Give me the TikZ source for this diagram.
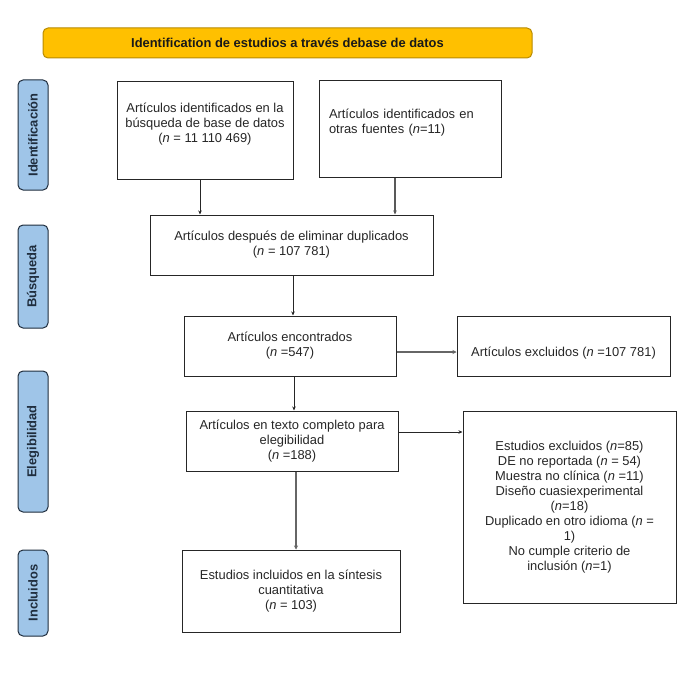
\documentclass[tikz,border=0pt]{standalone}
\usepackage{fontspec}
\setmainfont{Liberation Sans}
\usetikzlibrary{arrows.meta}

\definecolor{gold}{HTML}{FFC000}
\definecolor{golddark}{HTML}{B88A00}
\definecolor{sideblue}{HTML}{9FC5E8}
\definecolor{sidedark}{HTML}{1F2D3D}
\newcommand{\boxfont}{\fontsize{12.9}{15}\selectfont}

\tikzset{
  box/.style={draw=black!85, line width=1pt, align=center, inner sep=0pt, text=black!85},
  side/.style={draw=sidedark, fill=sideblue, line width=1pt, rounded corners=5pt, rotate=90,
    minimum height=30pt, inner sep=0pt, font=\boxfont\bfseries, text=sidedark},
  head/.style={draw=golddark, fill=gold, line width=1pt, rounded corners=5pt,
    inner sep=0pt, font=\boxfont\bfseries, text=black!90},
  arr/.style={-{Stealth[length=4pt,width=3.5pt]}, line width=0.8pt, black!85},
  arrthick/.style={-{Stealth[length=4pt,width=4pt]}, line width=2pt, black!60},
}

\begin{document}
\begin{tikzpicture}[x=1pt, y=-1pt, font=\boxfont]
\useasboundingbox (0,0) rectangle (687,690);

%%%%% Header
\node [head, minimum width=489pt, minimum height=30pt] (hdr) at (287.5,43) {Identification de estudios a través debase de datos};

%%%%% Side labels
\node [side, minimum width=110pt] (sideId) at (33,135) {Identificación};
\node [side, minimum width=103pt] (sideBus) at (33,276.5) {Búsqueda};
\node [side, minimum width=141pt] (sideEle) at (33,441.5) {Elegibilidad};
\node [side, minimum width=86pt] (sideInc) at (33,593) {Incluidos};

%%%%% Identification
\node [box, minimum width=176pt, minimum height=97pt] (bdatos) at (205,130.5) {Artículos identificados en la\\búsqueda de base de datos\\(\textit{n} = 11 110 469)\\[1pt]\mbox{}};
\node [box, align=left, text width=162pt, inner xsep=10pt, minimum width=182pt, minimum height=96pt] (otras) at (410,129) {Artículos identificados en\\otras fuentes (\textit{n}=11)\\[1pt]\mbox{}};

%%%%% Busqueda
\node [box, minimum width=283pt, minimum height=60pt] (dupl) at (291.5,245) {Artículos después de eliminar duplicados\\(\textit{n} = 107 781)};
\node [box, minimum width=212pt, minimum height=60pt] (encon) at (290,346) {Artículos encontrados\\(\textit{n} =547)};
\node [box, text height=24pt, text depth=3pt, minimum width=213pt, minimum height=60pt] (excl) at (563.5,346) {Artículos excluidos (\textit{n} =107 781)};

%%%%% Elegibilidad
\node [box, minimum width=212pt, minimum height=60pt] (texto) at (292,441) {Artículos en texto completo para\\elegibilidad\\(\textit{n} =188)};
\node [box, minimum width=213pt, minimum height=192pt] (estex) at (569.5,507) {Estudios excluidos (\textit{n}=85)\\DE no reportada (\textit{n} = 54)\\Muestra no clínica (\textit{n} =11)\\Diseño cuasiexperimental\\(\textit{n}=18)\\Duplicado en otro idioma (\textit{n} =\\1)\\No cumple criterio de\\inclusión (\textit{n}=1)};

%%%%% Incluidos
\node [box, minimum width=218pt, minimum height=82pt] (incl) at (291,591) {Estudios incluidos en la síntesis\\cuantitativa\\(\textit{n} = 103)};

%%%%% Arrows
\draw [arr] ([xshift=-5pt]bdatos.south) -- ([xshift=-5pt]bdatos.south |- dupl.north);
\draw [arr, line width=1.2pt, black!65] ([xshift=-15pt]otras.south) -- ([xshift=-15pt]otras.south |- dupl.north);
\draw [arr] ([xshift=1.5pt]dupl.south) -- ([xshift=1.5pt]dupl.south |- encon.north);
\draw [arrthick] ([yshift=-6pt]encon.east) -- ([yshift=-6pt]encon.east -| excl.west);
\draw [arr] ([xshift=4pt]encon.south) -- ([xshift=4pt]encon.south |- texto.north);
\draw [arr] ([yshift=9pt]texto.east) -- ([yshift=9pt]texto.east -| estex.west);
\draw [arrthick] ([xshift=4pt]texto.south) -- ([xshift=4pt]texto.south |- incl.north);

\end{tikzpicture}
\end{document}
